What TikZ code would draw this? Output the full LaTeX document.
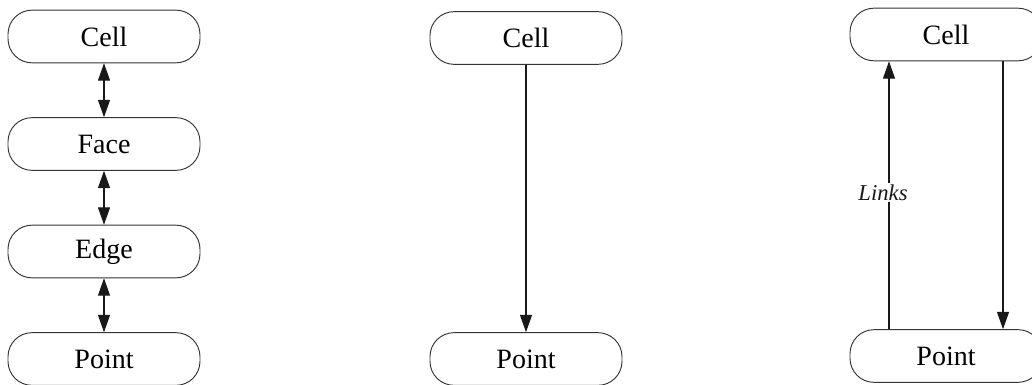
\documentclass[tikz,border=0pt]{standalone}
\usepackage{fontspec}
\setmainfont{Liberation Serif}
\usetikzlibrary{arrows.meta}

\begin{document}
\begin{tikzpicture}[x=0.75pt,y=-0.75pt,>={Triangle[length=13pt,width=9pt]}]
        \tikzset{
            level/.style={draw=black!80,line width=0.7pt,rounded corners=18pt,
                minimum width=144pt,minimum height=39.5pt,inner sep=0pt,
                font=\fontsize{21}{25}\selectfont},
            link/.style={line width=0.8pt,black!90},
            linklabel/.style={font=\itshape\fontsize{17}{20}\selectfont,fill=white,inner sep=1pt}
        }

        \clip (0,0) rectangle (1032,385);

        % full hierarchy
        \node[level] (cell) at (104,36.5) {Cell};
        \node[level] (face) at (104,144) {Face};
        \node[level] (edge) at (104,251.5) {Edge};
        \node[level] (point) at (104,359) {Point};

        \draw[link,<->] (cell.south) -- (face.north);
        \draw[link,<->] (face.south) -- (edge.north);
        \draw[link,<->] (edge.south) -- (point.north);

        % downward only
        \node[level] (mcell) at (526,38) {Cell};
        \node[level] (mpoint) at (526,359) {Point};

        \draw[link,->] (mcell.south) -- (mpoint.north);

        % with upward links
        \node[level] (rcell) at (946,34.5) {Cell};
        \node[level] (rpoint) at (946,356) {Point};
        \coordinate (upx) at (889,0);
        \coordinate (downx) at (1003,0);

        \draw[link,->] (rpoint.north -| upx) -- node[linklabel,pos=0.51,xshift=-4.5pt] {Links} (rcell.south -| upx);
        \draw[link,->] (rcell.south -| downx) -- (rpoint.north -| downx);
    \end{tikzpicture}
\end{document}
